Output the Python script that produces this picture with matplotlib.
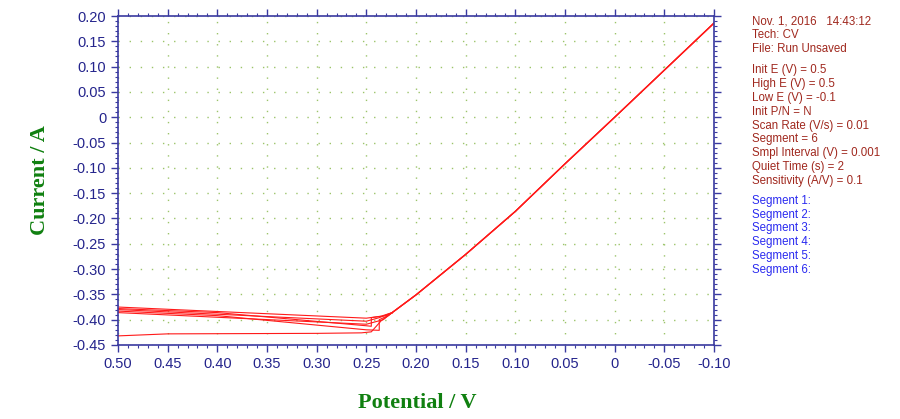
import matplotlib
matplotlib.use("Agg")
import matplotlib.pyplot as plt
from matplotlib.ticker import FixedLocator, FixedFormatter, MultipleLocator

# ---- data ----
# common linear branch shared by all sweeps (potential V, current A)
main_v = [0.224, 0.20, 0.15, 0.10, 0.05, 0.0, -0.05, -0.10]
main_i = [-0.386, -0.351, -0.271, -0.186, -0.092, 0.000, 0.093, 0.186]

# low-potential parts of each sweep (from 0.5 V down to the kink, or back)
fwd1_v = [0.50, 0.45, 0.30, 0.255, 0.245, 0.235, 0.224]
fwd1_i = [-0.432, -0.428, -0.427, -0.426, -0.424, -0.402, -0.386]
rev1_v = [0.224, 0.235, 0.250, 0.50]
rev1_i = [-0.386, -0.393, -0.397, -0.375]
fwd2_v = [0.50, 0.40, 0.250, 0.245, 0.245, 0.230, 0.224]
fwd2_i = [-0.378, -0.386, -0.412, -0.413, -0.396, -0.392, -0.386]
rev2_v = [0.224, 0.237, 0.250, 0.50]
rev2_i = [-0.386, -0.396, -0.403, -0.380]
fwd3_v = [0.50, 0.40, 0.250, 0.237, 0.237, 0.228, 0.224]
fwd3_i = [-0.383, -0.392, -0.420, -0.421, -0.400, -0.392, -0.386]
rev3_v = [0.224, 0.233, 0.250, 0.50]
rev3_i = [-0.386, -0.400, -0.409, -0.386]

x_ticks = [0.50, 0.45, 0.40, 0.35, 0.30, 0.25, 0.20, 0.15, 0.10, 0.05, 0.0, -0.05, -0.10]
x_labels = ["0.50", "0.45", "0.40", "0.35", "0.30", "0.25", "0.20", "0.15", "0.10", "0.05", "0", "-0.05", "-0.10"]
y_ticks = [0.20, 0.15, 0.10, 0.05, 0.0, -0.05, -0.10, -0.15, -0.20, -0.25, -0.30, -0.35, -0.40, -0.45]
y_labels = ["0.20", "0.15", "0.10", "0.05", "0", "-0.05", "-0.10", "-0.15", "-0.20", "-0.25", "-0.30", "-0.35", "-0.40", "-0.45"]

info_lines = ["Nov. 1, 2016   14:43:12", "Tech: CV", "File: Run Unsaved"]
param_lines = ["Init E (V) = 0.5", "High E (V) = 0.5", "Low E (V) = -0.1", "Init P/N = N",
               "Scan Rate (V/s) = 0.01", "Segment = 6", "Smpl Interval (V) = 0.001",
               "Quiet Time (s) = 2", "Sensitivity (A/V) = 0.1"]
segment_lines = ["Segment 1:", "Segment 2:", "Segment 3:", "Segment 4:", "Segment 5:", "Segment 6:"]

# ---- plot ----
W, H = 900, 419
fig = plt.figure(figsize=(9, 4.19), dpi=100)
ax = fig.add_axes([118 / W, 1 - 345 / H, (714 - 118) / W, (345 - 16) / H])

red = "#FF1A1A"
lows = [(fwd1_v, fwd1_i), (rev1_v, rev1_i), (fwd2_v, fwd2_i),
        (rev2_v, rev2_i), (fwd3_v, fwd3_i), (rev3_v, rev3_i)]
for v, i in lows:
    ax.plot(v, i, color=red, lw=0.8)
for k in range(3):
    ax.plot(main_v, main_i, color=red, lw=0.9)

ax.set_xlim(0.50, -0.10)
ax.set_ylim(-0.45, 0.20)

navy = "#24248C"
spine_c = "#3A3AA0"
ax.xaxis.set_major_locator(FixedLocator(x_ticks))
ax.xaxis.set_major_formatter(FixedFormatter(x_labels))
ax.yaxis.set_major_locator(FixedLocator(y_ticks))
ax.yaxis.set_major_formatter(FixedFormatter(y_labels))
ax.xaxis.set_minor_locator(MultipleLocator(0.01))
ax.yaxis.set_minor_locator(MultipleLocator(0.01))
ax.tick_params(which="both", direction="out", color=spine_c, top=True, right=True,
               labelcolor=navy, labelsize=10.5)
ax.tick_params(which="major", length=5, width=1)
ax.tick_params(which="minor", length=2.5, width=0.8)
for lab in ax.get_xticklabels() + ax.get_yticklabels():
    lab.set_fontfamily("Liberation Sans")
for s in ax.spines.values():
    s.set_color(spine_c)
    s.set_linewidth(1.2)

ax.grid(True, which="major", color="#9CC46A", linestyle=(0, (1, 7)), linewidth=1.0)
ax.set_axisbelow(True)

green = "#108010"
fig.text(40 / W, 1 - 180 / H, "Current / A", rotation=90, ha="center", va="center",
         color=green, fontsize=16, fontweight="bold", family="Liberation Serif")
fig.text(417 / W, 1 - 403 / H, "Potential / V", ha="center", va="center",
         color=green, fontsize=16, fontweight="bold", family="Liberation Serif")

txt_red = "#A0281E"
txt_blue = "#2A2AF0"
x0 = 752 / W
y = 22
for t in info_lines:
    fig.text(x0, 1 - y / H, t, color=txt_red, fontsize=8.3, family="Liberation Sans", va="center")
    y += 13.5
y = 70.5
for t in param_lines:
    fig.text(x0, 1 - y / H, t, color=txt_red, fontsize=8.3, family="Liberation Sans", va="center")
    y += 13.75
y = 201
for t in segment_lines:
    fig.text(x0, 1 - y / H, t, color=txt_blue, fontsize=8.3, family="Liberation Sans", va="center")
    y += 13.7

fig.savefig("out.png", dpi=100)
